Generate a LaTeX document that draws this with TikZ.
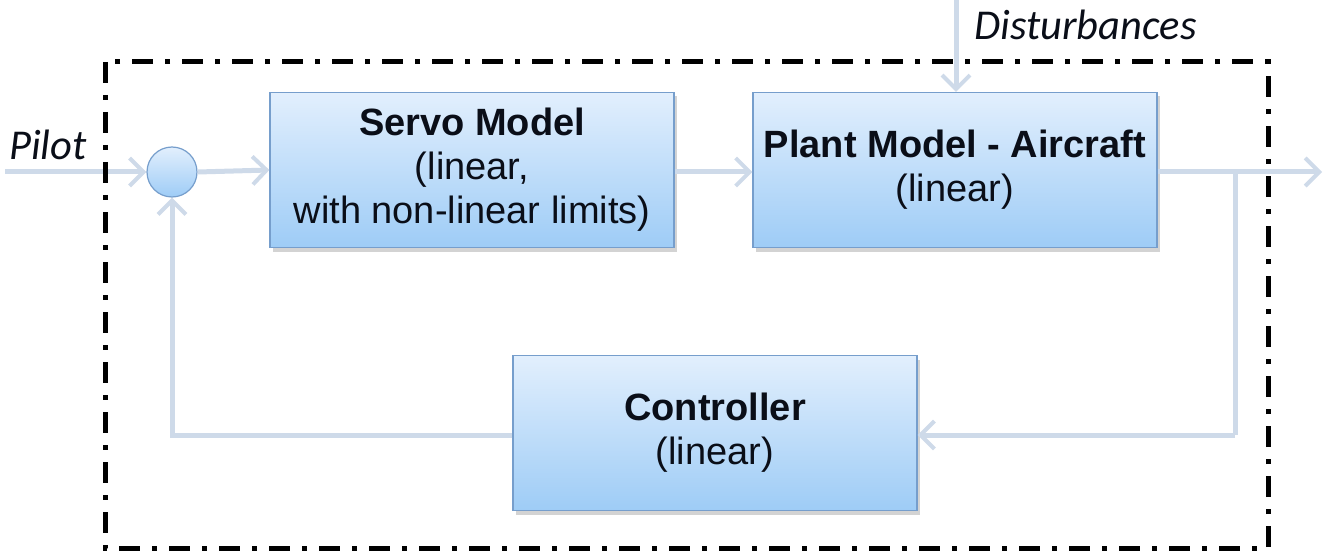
\documentclass[tikz,border=0pt]{standalone}
\usepackage{fontspec}
\setmainfont{Liberation Sans}
\newfontfamily\labelfont{Carlito}
\usetikzlibrary{arrows.meta,shadows,calc}

\definecolor{wire}{RGB}{206,218,233}
\definecolor{boxtop}{RGB}{226,239,253}
\definecolor{boxbot}{RGB}{158,204,246}
\definecolor{boxedge}{RGB}{118,158,204}
\definecolor{txt}{RGB}{10,14,24}

\tikzset{
  blockbox/.style={draw=boxedge, line width=1.2pt, top color=boxtop, bottom color=boxbot,
    minimum width=404pt, minimum height=155pt, inner sep=0pt, align=center,
    text=txt, font=\fontsize{38}{44}\selectfont,
    drop shadow={opacity=0.35, shadow xshift=3pt, shadow yshift=-4pt}},
  sumnode/.style={circle, draw=boxedge, line width=1.2pt, top color=boxtop, bottom color=boxbot,
    minimum size=50pt, inner sep=0pt},
  wireline/.style={draw=wire, line width=5pt},
  wirearrow/.style={wireline, -{Straight Barb[length=14pt,width=28pt,line width=4pt]}},
  sidelabel/.style={font=\labelfont\itshape\fontsize{42.5}{48}\selectfont, text=txt, inner sep=0pt},
  boundary/.style={draw=black, line width=5pt, dash pattern=on 21pt off 12pt on 5pt off 12pt}
}

\begin{document}
\begin{tikzpicture}[x=1pt,y=-1pt]
\useasboundingbox (0,0) rectangle (1335,556);

% blocks
\node[sumnode] (sum) at (172,172) {};
\node[blockbox] (servo) at (472,170) {\textbf{Servo Model}\\(linear,\\with non-linear limits)};
\node[blockbox] (plant) at (955,170) {\textbf{Plant Model - Aircraft}\\(linear)};
\node[blockbox] (ctrl) at (715,433) {\textbf{Controller}\\(linear)};

% free ends and branch points
\coordinate (in) at (5,172);
\coordinate (out) at (1322,172);
\coordinate (branch) at (1235,172);
\coordinate (fbR) at (1235,435);
\coordinate (fbL) at (172,435);
\coordinate (dist) at (956,0);

% labels
\node[sidelabel, anchor=base west] (pilot) at (9,160) {Pilot};
\node[sidelabel, anchor=base west] (distlbl) at (974,40) {Disturbances};

% signal flow
\draw[wirearrow] (in) -- (sum.west);
\draw[wirearrow] (sum.east) -- (servo.west);
\draw[wirearrow] (servo.east |- sum) -- (plant.west |- sum);
\draw[wirearrow] (plant.east |- sum) -- (out);
\draw[wirearrow] (dist) -- (dist |- plant.north);

% feedback loop
\draw[wireline, line join=miter] (branch) -- (fbR);
\draw[wirearrow, line join=miter] (fbR) -- (ctrl.east |- fbR);
\draw[wirearrow, line join=miter] (ctrl.west |- fbL) -- (fbL) -- (sum.south);

% system boundary
\draw[boundary] (105,62) rectangle (1268,548);
\end{tikzpicture}
\end{document}
